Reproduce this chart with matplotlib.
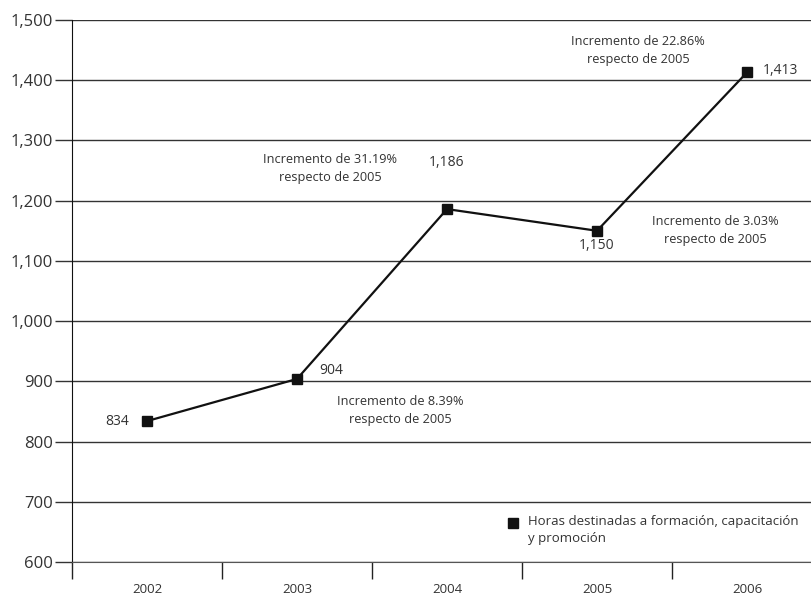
import matplotlib
matplotlib.use("Agg")
import matplotlib.pyplot as plt
from matplotlib.ticker import FuncFormatter, FixedLocator

plt.rcParams['font.family'] = ['Open Sans', 'DejaVu Sans']

years = ["2002", "2003", "2004", "2005", "2006"]
hours = [834, 904, 1186, 1150, 1413]
value_labels = ["834", "904", "1,186", "1,150", "1,413"]
incr_texts = ["Incremento de 31.19%\nrespecto de 2005",
              "Incremento de 22.86%\nrespecto de 2005",
              "Incremento de 3.03%\nrespecto de 2005",
              "Incremento de 8.39%\nrespecto de 2005"]
series_name = "Horas destinadas a formación, capacitación\ny promoción"

fig = plt.figure(figsize=(8.12, 6.0), dpi=100)
ax = fig.add_axes([72/812, 38/600, 750/812, 542/600])

x = list(range(len(years)))
ax.plot(x, hours, color="#111111", lw=1.6, marker="s", ms=7,
        markerfacecolor="#111111", markeredgecolor="#111111",
        zorder=3, clip_on=False)

ax.set_xlim(-0.5, 4.5)
ax.set_ylim(600, 1500)
ax.set_yticks(range(600, 1501, 100))
ax.yaxis.set_major_formatter(FuncFormatter(lambda v, p: f"{int(v):,}"))
ax.yaxis.grid(True, color="#333333", lw=1.0)
ax.set_axisbelow(True)

ax.set_xticks(x)
ax.set_xticklabels(years)
ax.xaxis.set_minor_locator(FixedLocator([-0.5, 0.5, 1.5, 2.5, 3.5]))
ax.tick_params(axis="x", which="major", length=0, pad=15, labelsize=9.5, labelcolor="#333333")
ax.tick_params(axis="x", which="minor", length=12, width=1.0, color="#222222")
ax.tick_params(axis="y", which="major", length=12, width=1.0, color="#333333",
               labelsize=12, labelcolor="#333333", pad=2)

for s in ["top", "right"]:
    ax.spines[s].set_visible(False)
ax.spines["bottom"].set_color("#555555")
ax.spines["left"].set_color("#111111")

# value labels
offsets = [(-18, 0, "right", "center"), (22, 8, "left", "center"),
           (0, 47, "center", "center"), (0, -15, "center", "center"),
           (16, 2, "left", "center")]
for xi, yi, lab, (dx, dy, ha, va) in zip(x, hours, value_labels, offsets):
    ax.annotate(lab, (xi, yi), xytext=(dx, dy), textcoords="offset pixels",
                ha=ha, va=va, fontsize=10, color="#333333")

incr_pos = [(1.22, 1254), (3.273, 1450), (3.787, 1151), (1.687, 852)]
for (tx, ty), t in zip(incr_pos, incr_texts):
    ax.text(tx, ty, t, ha="center", va="center", fontsize=9.2, color="#333333",
            linespacing=1.5)

# legend (marker aligned with first line of label)
ax.plot([0.588], [0.072], transform=ax.transAxes, ls="none", marker="s", ms=7,
        color="#111111", clip_on=False)
ax.text(0.608, 0.087, series_name, transform=ax.transAxes, ha="left",
        va="top", fontsize=9.5, color="#333333", linespacing=1.4)

fig.savefig("out.png", dpi=100)
